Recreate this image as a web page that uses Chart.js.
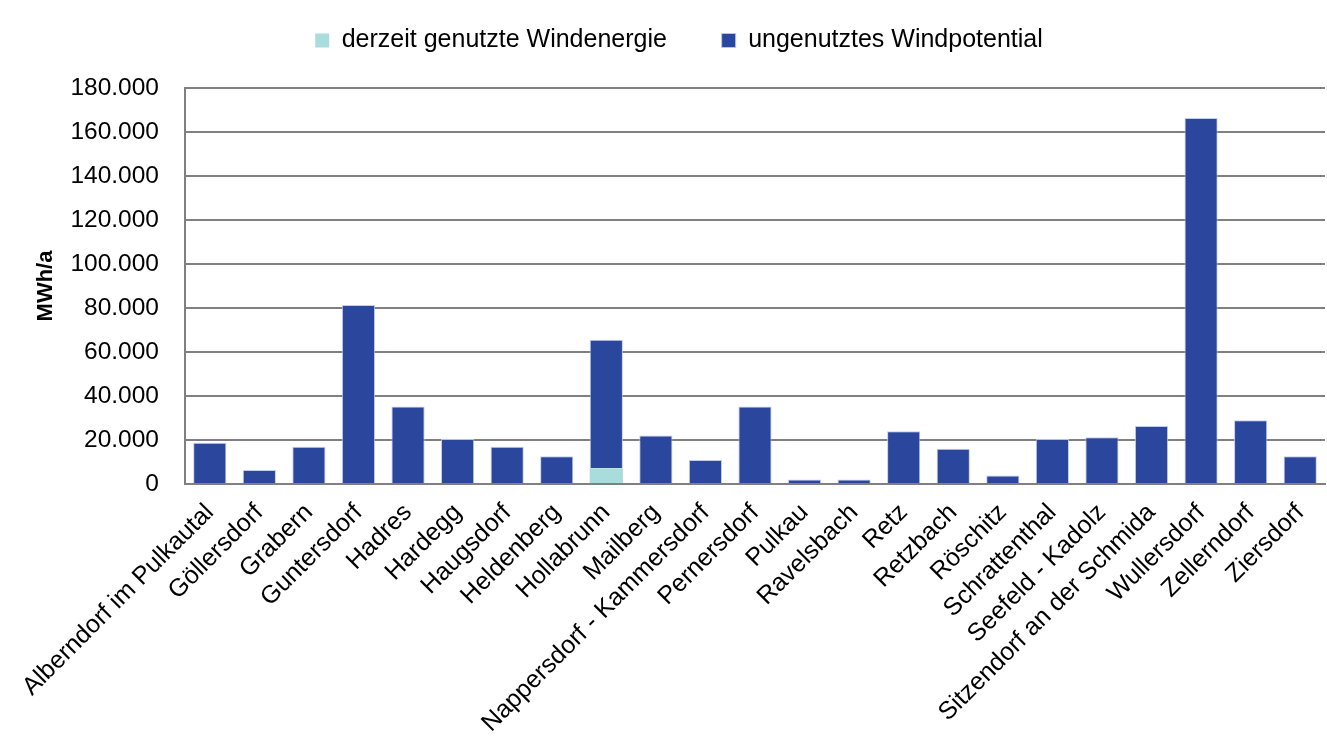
<!DOCTYPE html>
<html>
<head>
<meta charset="utf-8">
<script src="https://cdn.jsdelivr.net/npm/chart.js@4"></script>
<style>
  html, body { margin: 0; padding: 0; background: #fff; overflow: hidden; }
  #wrap { width: 1327px; height: 738px; }
</style>
</head>
<body>
<div id="wrap"><canvas id="chart"></canvas></div>
<script>
const gemeinden = [
  "Alberndorf im Pulkautal", "Göllersdorf", "Grabern", "Guntersdorf", "Hadres",
  "Hardegg", "Haugsdorf", "Heldenberg", "Hollabrunn", "Mailberg",
  "Nappersdorf - Kammersdorf", "Pernersdorf", "Pulkau", "Ravelsbach", "Retz",
  "Retzbach", "Röschitz", "Schrattenthal", "Seefeld - Kadolz",
  "Sitzendorf an der Schmida", "Wullersdorf", "Zellerndorf", "Ziersdorf"
];

// MWh/a
const genutzt = [0, 0, 0, 0, 0, 0, 0, 0, 7200, 0, 0, 0, 0, 0, 0, 0, 0, 0, 0, 0, 0, 0, 0];
const ungenutzt = [
  18700, 6400, 16900, 81400, 35200, 20400, 16900, 12600, 58400, 22100,
  10900, 35200, 2100, 2100, 24000, 16000, 3900, 20400, 21200, 26400,
  166400, 29000, 12600
];

const yTicks = [0, 20000, 40000, 60000, 80000, 100000, 120000, 140000, 160000, 180000];

const fmt = (v) => v.toString().replace(/\B(?=(\d{3})+(?!\d))/g, ".");

const gridGrey = "#808080";
const font = "'Liberation Sans', Arial, sans-serif";

// extra room below the legend, like the original
const legendSpace = {
  id: "legendSpace",
  beforeInit(chart) {
    const origFit = chart.legend.fit;
    chart.legend.fit = function () {
      origFit.bind(chart.legend)();
      this.height += 25;
    };
  }
};

const ctx = document.getElementById("chart").getContext("2d");

new Chart(ctx, {
  type: "bar",
  data: {
    labels: gemeinden,
    datasets: [
      {
        label: "derzeit genutzte Windenergie",
        data: genutzt,
        backgroundColor: "#A9DCDC",
        borderWidth: 0
      },
      {
        label: "ungenutztes Windpotential",
        data: ungenutzt,
        backgroundColor: "#2B479D",
        borderColor: "rgba(190,198,235,0.9)",
        borderWidth: 1
      }
    ]
  },
  plugins: [legendSpace],
  options: {
    responsive: true,
    maintainAspectRatio: false,
    animation: false,
    layout: { padding: { left: 33, right: 2, top: 8, bottom: 0 } },
    datasets: {
      bar: { categoryPercentage: 1.0, barPercentage: 0.67 }
    },
    plugins: {
      tooltip: { enabled: false },
      legend: {
        position: "top",
        align: "center",
        labels: {
          color: "#000",
          font: { family: font, size: 25 },
          boxWidth: 14,
          boxHeight: 14,
          padding: 20,
          generateLabels: (chart) => {
            const items = Chart.defaults.plugins.legend.labels.generateLabels(chart);
            // wider gap between the two entries
            items[0].text += "\u00a0\u00a0\u00a0\u00a0\u00a0";
            return items;
          }
        }
      }
    },
    scales: {
      x: {
        stacked: true,
        grid: { display: false, drawTicks: false },
        border: { display: true, color: gridGrey, width: 2 },
        ticks: {
          color: "#000",
          font: { family: font, size: 25 },
          maxRotation: 45,
          minRotation: 45,
          autoSkip: false,
          padding: 14
        },
        afterFit: (scale) => {
          scale.height = 254;
          scale.paddingRight = 0;
        }
      },
      y: {
        stacked: true,
        min: 0,
        max: 180000,
        afterBuildTicks: (scale) => {
          scale.ticks = yTicks.map(v => ({ value: v }));
        },
        grid: { color: gridGrey, lineWidth: 2, drawTicks: false },
        border: { display: true, color: gridGrey, width: 2 },
        ticks: {
          color: "#000",
          font: { family: font, size: 24.5 },
          padding: 26,
          callback: (v) => fmt(v)
        },
        title: {
          display: true,
          text: "MWh/a",
          color: "#000",
          font: { family: font, size: 22, weight: "bold" },
          padding: { top: 0, bottom: 0 }
        },
        afterFit: (scale) => { scale.width = 152; }
      }
    }
  }
});
</script>
</body>
</html>
